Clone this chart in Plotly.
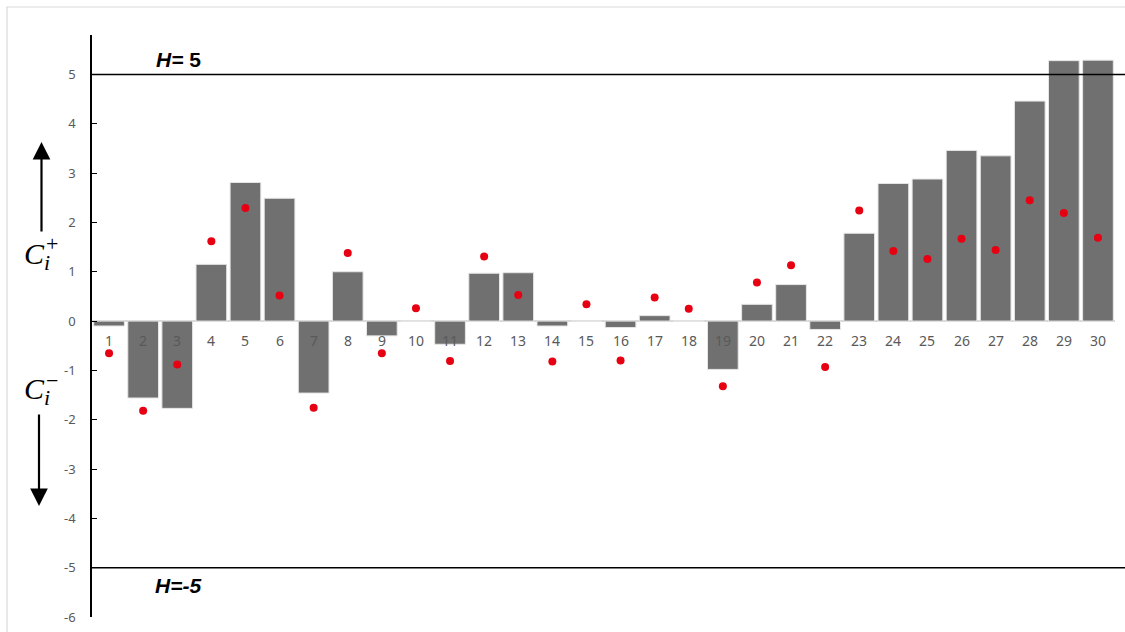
import plotly.graph_objects as go

# ---- data ----
categories = list(range(1, 31))
cusum_bars = [-0.10, -1.56, -1.77, 1.15, 2.81, 2.49, -1.46, 1.00, -0.30, 0.00,
              -0.47, 0.97, 0.98, -0.10, 0.00, -0.13, 0.11, 0.00, -0.98, 0.34,
              0.74, -0.17, 1.78, 2.79, 2.88, 3.46, 3.35, 4.46, 5.28, 5.29]
red_points = [-0.65, -1.82, -0.88, 1.62, 2.29, 0.52, -1.76, 1.38, -0.65, 0.26,
              -0.81, 1.31, 0.53, -0.82, 0.34, -0.80, 0.48, 0.25, -1.32, 0.78,
              1.13, -0.93, 2.24, 1.42, 1.26, 1.67, 1.44, 2.45, 2.19, 1.69]
y_ticks = [-6, -5, -4, -3, -2, -1, 0, 1, 2, 3, 4, 5]
y_ticktext = [str(v) for v in y_ticks]
H_upper = 5
H_lower = -5
H_upper_label = "<b><i>H=</i> 5</b>"
H_lower_label = "<b><i>H=-5</i></b>"

# ---- layout geometry (pixels) ----
W, Hh = 1125, 632
L, R, T, B = 92, 1115, 35, 617


def px_x(p):
    return (p - L) / (R - L)


def px_y(p):
    return (B - p) / (B - T)


LABEL_Y = -0.40
GRAY = "#595959"

fig = go.Figure()
fig.add_trace(go.Bar(
    x=categories, y=cusum_bars,
    marker=dict(color="#707070", line=dict(color="#e6e6e6", width=1)),
    showlegend=False, hoverinfo="x+y",
))
fig.add_trace(go.Scatter(
    x=categories, y=red_points, mode="markers",
    marker=dict(color="#e60012", size=8),
    showlegend=False,
))

annotations = []
for c in categories:
    annotations.append(dict(x=c, y=LABEL_Y, xref="x", yref="y", text=str(c),
                            showarrow=False, xanchor="center", yanchor="middle",
                            font=dict(family="Noto Sans", size=14, color=GRAY)))


def ptext(px, py, text, font):
    return dict(x=px_x(px), y=px_y(py), xref="paper", yref="paper", text=text,
                showarrow=False, xanchor="center", yanchor="middle", font=font)


# H labels
hfont = dict(family="Liberation Sans", size=21, color="#000")
annotations.append(ptext(178, 60, H_upper_label, hfont))
annotations.append(ptext(178, 585, H_lower_label, hfont))

# arrows
annotations.append(dict(x=px_x(41.5), y=px_y(142), xref="paper", yref="paper",
                        text="", showarrow=True, ax=0, ay=91,
                        arrowhead=2, arrowsize=1.6, arrowwidth=2.2, arrowcolor="#000",
                        standoff=0))
annotations.append(dict(x=px_x(39), y=px_y(506), xref="paper", yref="paper",
                        text="", showarrow=True, ax=0, ay=-93,
                        arrowhead=2, arrowsize=1.6, arrowwidth=2.2, arrowcolor="#000",
                        standoff=0))

# C_i^+ and C_i^- labels
serif = "Liberation Serif"
for (cy, sign, sy, iy) in [(253, "+", 244, 262), (388, "\u2212", 380, 397)]:
    annotations.append(ptext(34, cy, "<i>C</i>", dict(family=serif, size=30, color="#000")))
    annotations.append(ptext(52, sy, sign, dict(family=serif, size=22, color="#000")))
    annotations.append(ptext(47, iy, "<i>i</i>", dict(family=serif, size=22, color="#000")))

shapes = [
    dict(type="line", xref="paper", yref="y", x0=0, x1=px_x(1125), y0=H_upper, y1=H_upper,
         line=dict(color="#000", width=1.6)),
    dict(type="line", xref="paper", yref="y", x0=0, x1=px_x(1125), y0=H_lower, y1=H_lower,
         line=dict(color="#000", width=1.6)),
    # outer chart frame
    dict(type="rect", xref="paper", yref="paper", x0=px_x(7), x1=px_x(1140),
         y0=px_y(650), y1=px_y(7), line=dict(color="#d9d9d9", width=1.2),
         fillcolor="rgba(0,0,0,0)", layer="below"),
]

fig.update_layout(
    width=W, height=Hh,
    margin=dict(l=L, r=W - R, t=T, b=Hh - B, autoexpand=False),
    paper_bgcolor="white", plot_bgcolor="white",
    bargap=0.1,
    showlegend=False,
    annotations=annotations,
    shapes=shapes,
    xaxis=dict(range=[0.5, 30.5], showticklabels=False, showgrid=False,
               zeroline=False, showline=False, ticks=""),
    yaxis=dict(range=[-6, 5.8], tickvals=y_ticks, ticktext=y_ticktext,
               showgrid=False, zeroline=True, zerolinecolor="#d9d9d9", zerolinewidth=1.5,
               showline=True, linecolor="#000", linewidth=1.5,
               ticks="inside", ticklen=5, tickcolor="#000", tickwidth=1.2,
               ticklabelstandoff=12,
               tickfont=dict(family="Noto Sans", size=13, color=GRAY)),
)

fig.write_html("out.html")
